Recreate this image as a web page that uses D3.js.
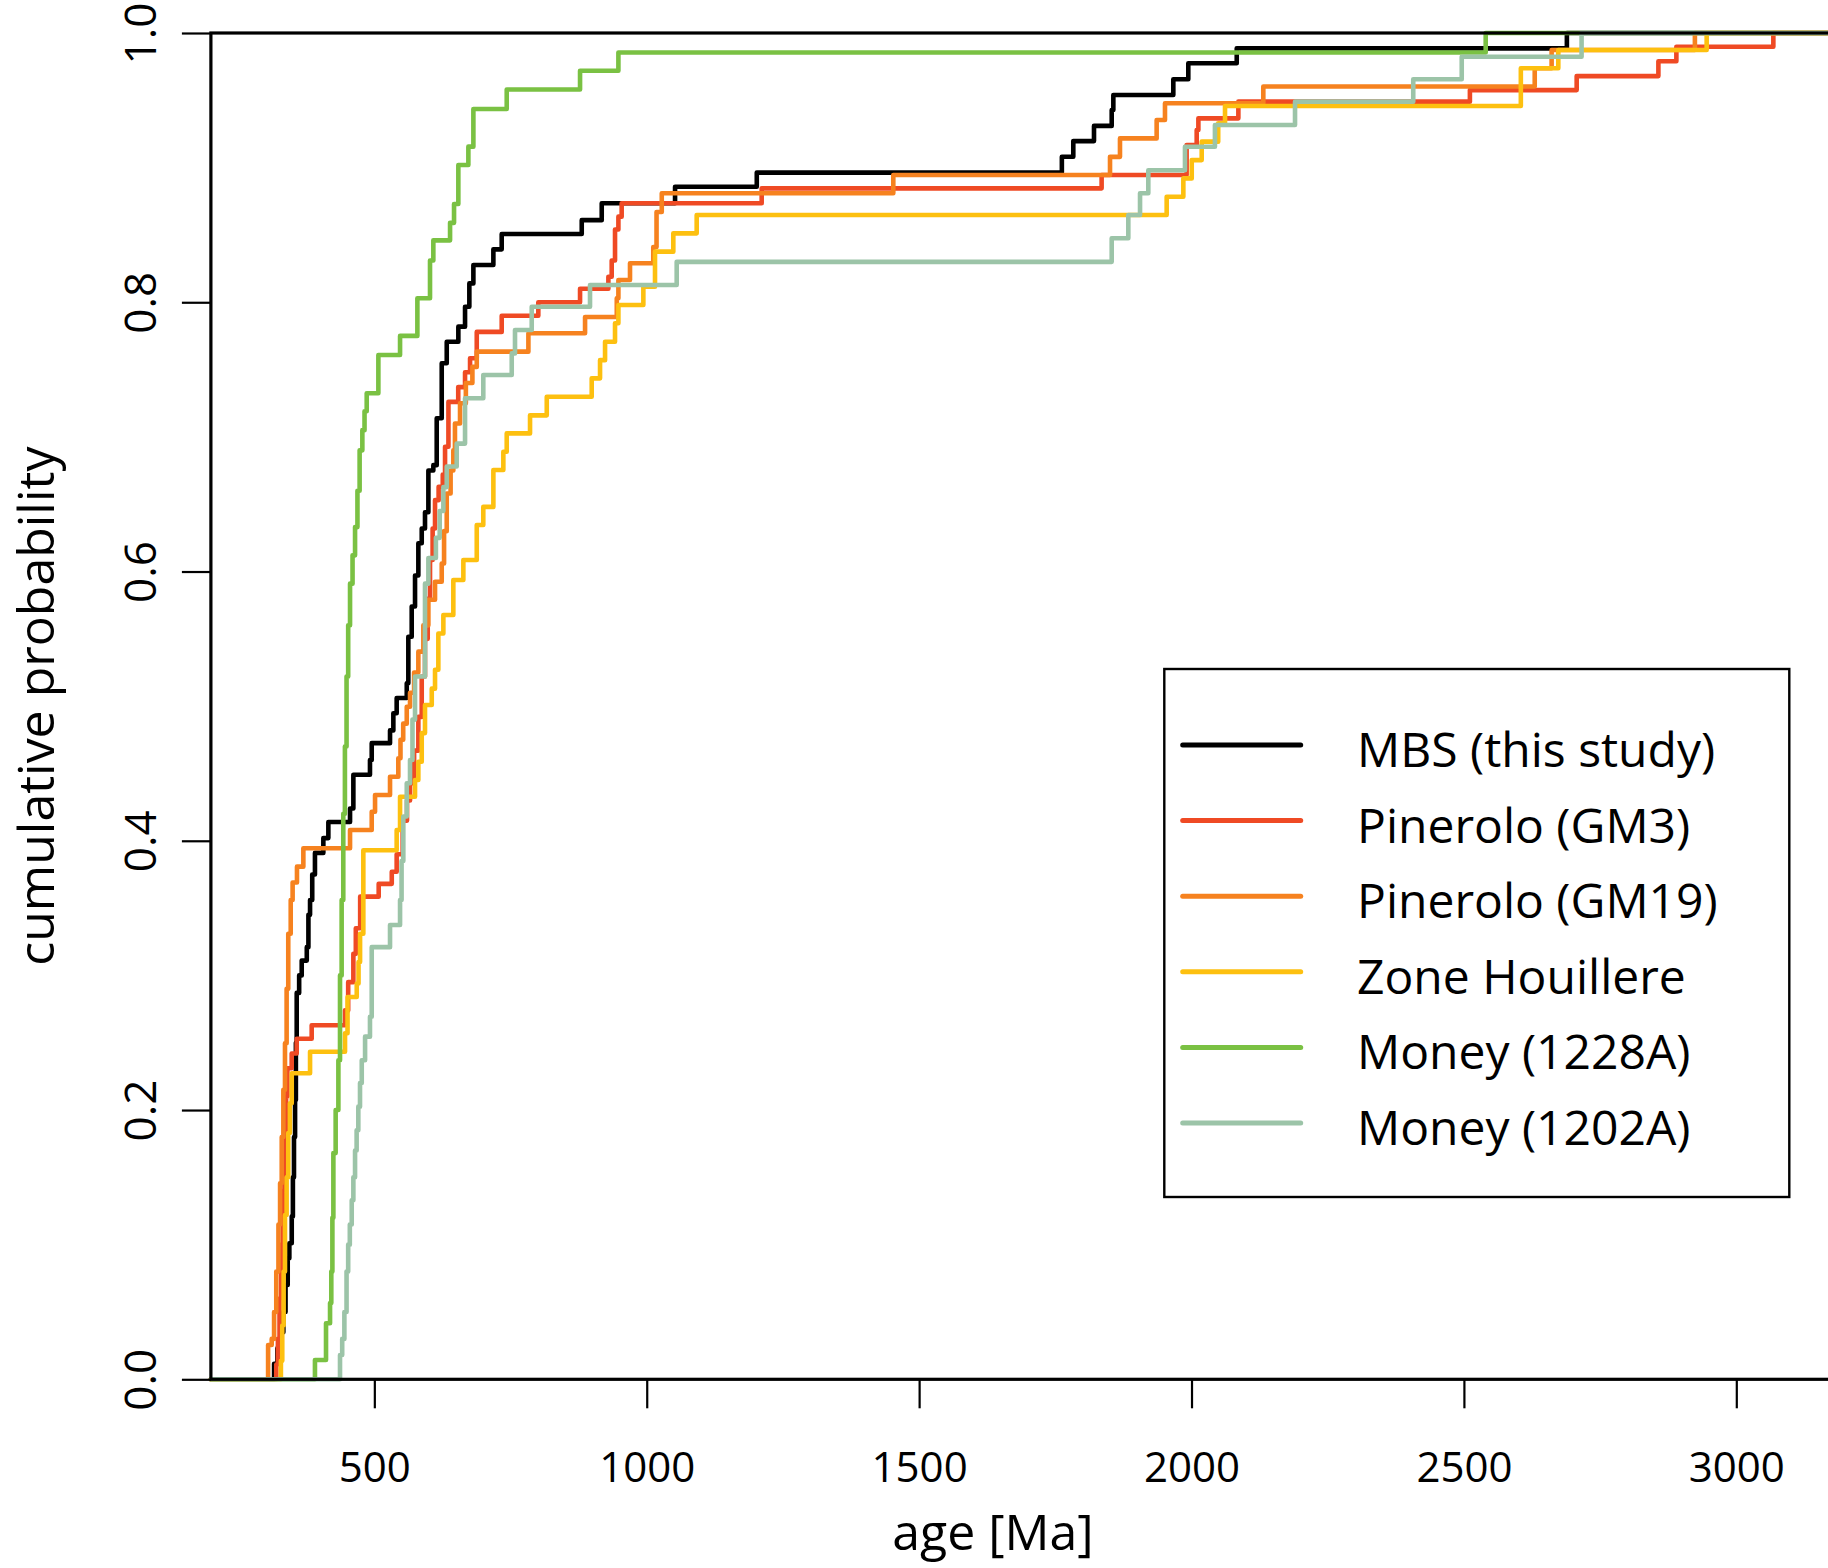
<!DOCTYPE html>
<html>
<head>
<meta charset="utf-8">
<script src="https://cdn.jsdelivr.net/npm/d3@7"></script>
<style>
  body { margin: 0; background: #fff; }
  svg { display: block; font-family: 'Open Sans', sans-serif; }
</style>
</head>
<body>
<div id="chart"></div>
<script>
// cumulative age curves: [age (Ma), cumulative probability]
const mbs = [[316,0.0115],[322,0.023],[328,0.035],[333,0.05],[337,0.07],[341,0.09],[344,0.101],[348.4,0.121],[350.5,0.15],[352.5,0.18],[354.5,0.2075],[356,0.25],[357.5,0.287],[362,0.3],[366.7,0.311],[376,0.321],[379,0.345],[382,0.356],[386,0.375],[391,0.391],[406.4,0.402],[415.6,0.414],[455.4,0.424],[461.5,0.449],[492,0.46],[495.2,0.4725],[528.8,0.482],[534.9,0.4947],[541,0.506],[559.5,0.517],[562.4,0.5516],[568.6,0.574],[574.7,0.597],[580.8,0.621],[587,0.632],[593,0.644],[599.2,0.675],[608.3,0.679],[614.5,0.7138],[623.7,0.7547],[632.9,0.7707],[654.2,0.7819],[666.5,0.7967],[674.4,0.814],[681.8,0.8277],[718.5,0.8393],[733.8,0.8507],[880.7,0.861],[917.4,0.8735],[1052,0.8858],[1202,0.8963],[1762,0.9081],[1783,0.9197],[1821,0.931],[1853.5,0.9428],[1856.5,0.954],[1966.6,0.9656],[1994.1,0.9775],[2083,0.9886],[2689,1]];

const gm3 = [[320,0.011],[323,0.03],[326,0.06],[329,0.1],[332,0.14],[335,0.18],[338,0.21],[340.4,0.231],[348.3,0.242],[357.5,0.253],[385,0.263],[446.2,0.274],[452,0.295],[461.5,0.316],[466,0.335],[474,0.3585],[508,0.368],[532,0.377],[541,0.39],[552,0.415],[560,0.43],[565.5,0.4427],[573,0.467],[580.8,0.492],[587,0.522],[593,0.55],[598,0.58],[602.2,0.6086],[607,0.632],[611.4,0.653],[618,0.663],[625.6,0.672],[629.8,0.6927],[636,0.726],[654,0.737],[666.5,0.748],[675.7,0.7584],[688,0.778],[733.8,0.79],[801,0.8],[877.6,0.81],[929.6,0.819],[935.7,0.831],[941.8,0.854],[948,0.8636],[954,0.8735],[1211,0.8846],[1835,0.8945],[1991,0.9168],[2009.5,0.928],[2012.6,0.9366],[2086,0.949],[2511,0.9576],[2707,0.968],[2857,0.979],[2890,0.9898],[3068,1]];

const gm19 = [[305,0.0255],[311.6,0.03],[316,0.05],[320,0.08],[324,0.115],[327,0.1456],[330,0.18],[333,0.215],[336,0.2496],[339,0.29],[342,0.331],[346.5,0.356],[350,0.369],[358,0.3808],[369.7,0.3944],[455.4,0.408],[495.2,0.4216],[501.3,0.434],[528.8,0.4476],[544,0.4613],[548,0.475],[553,0.487],[559.5,0.4996],[565.5,0.51],[573,0.525],[580.8,0.5405],[590,0.56],[599.2,0.579],[611.4,0.5924],[623.7,0.606],[628,0.63],[632.9,0.658],[640,0.675],[645,0.69],[648,0.71],[657.3,0.725],[668,0.74],[680,0.752],[688,0.7633],[782.8,0.777],[886.8,0.789],[945,0.803],[948,0.8165],[969.3,0.829],[1012,0.841],[1018,0.867],[1027.6,0.881],[1452.6,0.8945],[1850.4,0.908],[1868.7,0.9217],[1936,0.9354],[1951.3,0.9478],[2131.8,0.9603],[2630,0.9738],[2661,0.9874],[2924,1]];

const zoneHouillere = [[328.5,0.0137],[331,0.04],[333.5,0.08],[336,0.122],[339,0.15],[342,0.183],[345,0.205],[348.4,0.2273],[382,0.2433],[446.2,0.257],[450.8,0.284],[467.7,0.294],[471,0.31],[473.8,0.331],[479.8,0.393],[541,0.408],[547.2,0.4327],[574.7,0.4451],[580.8,0.4587],[587,0.48],[593,0.5008],[605.4,0.513],[611.4,0.527],[617.5,0.554],[626.7,0.5677],[645,0.5937],[663.4,0.6086],[688,0.6346],[700,0.648],[718.5,0.6754],[736.8,0.689],[743,0.7026],[785.8,0.716],[816.5,0.7298],[899,0.7435],[914.3,0.757],[923.5,0.7707],[941.8,0.7844],[948,0.798],[993.8,0.8116],[1015.2,0.8376],[1048.8,0.8512],[1091.7,0.8648],[1954.4,0.8784],[1985,0.892],[2000.4,0.9056],[2018.7,0.9193],[2049,0.933],[2061.5,0.9458],[2604.5,0.9738],[2673.3,0.9874],[2945.6,1]];

const money1228A = [[391,0.0143],[411.3,0.0416],[418.7,0.0567],[421,0.08],[423,0.12],[424.8,0.168],[429,0.2],[434,0.237],[437,0.3],[440,0.356],[443,0.42],[446,0.47],[449,0.522],[452,0.56],[455.4,0.591],[460,0.612],[464.6,0.633],[469,0.66],[473,0.69],[478,0.705],[482,0.719],[486,0.7324],[507.4,0.7608],[547.2,0.775],[579,0.803],[602.2,0.831],[608.3,0.846],[639,0.859],[646.3,0.873],[654.2,0.902],[672.6,0.9156],[681.8,0.9435],[743,0.958],[877.6,0.972],[948,0.9855],[2540,1]];

const money1202A = [[437,0.018],[441,0.03],[445,0.05],[449,0.08],[452,0.1],[455,0.115],[458.5,0.133],[461.5,0.15],[464.6,0.17],[467.5,0.185],[470.6,0.2025],[473.7,0.22],[476.9,0.237],[483,0.2545],[492,0.2693],[495.2,0.321],[528.8,0.3374],[547.2,0.356],[550,0.385],[553.2,0.418],[559.5,0.4427],[565.5,0.46],[570,0.49],[574.7,0.522],[593,0.591],[599.2,0.61],[613,0.625],[620,0.645],[626.7,0.6627],[632.9,0.678],[651.2,0.695],[666.5,0.7287],[700,0.746],[752.2,0.762],[758.2,0.7794],[788.9,0.7967],[895.9,0.8128],[1055,0.83],[1853.5,0.8475],[1884,0.8648],[1905.5,0.881],[1920.7,0.898],[1988,0.9155],[2043,0.9317],[2190,0.949],[2407,0.9656],[2496,0.9824],[2716,1]];

const seriesNames = ['MBS (this study)', 'Pinerolo (GM3)', 'Pinerolo (GM19)', 'Zone Houillere', 'Money (1228A)', 'Money (1202A)'];
const seriesData = [mbs, gm3, gm19, zoneHouillere, money1228A, money1202A];
const xTicks = [500, 1000, 1500, 2000, 2500, 3000];
const yTicks = [0, 0.2, 0.4, 0.6, 0.8, 1.0];

const colors = ['#000000', '#ef4a24', '#f6821f', '#fdc010', '#7ac143', '#9cc4a8'];

const width = 1828;
const height = 1568;

// plot frame runs off the right side of the picture
const x = d3.scaleLinear().domain([200, 3000]).range([210.9, 1736.3]);
const y = d3.scaleLinear().domain([0, 1]).range([1379.3, 33]);
const xMax = 3200;

const svg = d3.select('#chart')
  .append('svg')
  .attr('width', width)
  .attr('height', height)
  .attr('viewBox', [0, 0, width, height]);

svg.append('rect')
  .attr('width', width)
  .attr('height', height)
  .attr('fill', '#fff');

// step lines, each one runs from the left edge at 0 up to 1 and on to the right
const line = d3.line()
  .x(d => x(d[0]))
  .y(d => y(d[1]))
  .curve(d3.curveStepAfter);

svg.append('g')
  .attr('fill', 'none')
  .attr('stroke-width', 4.6)
  .attr('stroke-linejoin', 'round')
  .attr('stroke-linecap', 'round')
  .selectAll('path')
  .data(seriesData)
  .join('path')
  .attr('stroke', (d, i) => colors[i])
  .attr('d', d => line([[200, 0], ...d, [xMax, 1]]));

// frame
svg.append('rect')
  .attr('x', x(200))
  .attr('y', y(1))
  .attr('width', x(xMax) - x(200))
  .attr('height', y(0) - y(1))
  .attr('fill', 'none')
  .attr('stroke', '#000')
  .attr('stroke-width', 3.2);

// x axis
const gx = svg.append('g')
  .attr('transform', `translate(0,${y(0)})`)
  .call(d3.axisBottom(x).tickValues(xTicks).tickSize(29).tickFormat(d3.format('d')));
gx.select('.domain').remove();
gx.selectAll('.tick line').attr('stroke', '#000').attr('stroke-width', 2.2);
gx.selectAll('.tick text')
  .attr('y', 102.5)
  .attr('dy', 0)
  .attr('fill', '#000')
  .style('font-size', '42px')
  .style('font-family', "'Open Sans', sans-serif");

// y axis, labels turned along the axis
const gy = svg.append('g')
  .attr('transform', `translate(${x(200)},0)`)
  .call(d3.axisLeft(y).tickValues(yTicks).tickSize(29).tickFormat(d3.format('.1f')));
gy.select('.domain').remove();
gy.selectAll('.tick line').attr('stroke', '#000').attr('stroke-width', 2.2);
gy.selectAll('.tick text')
  .attr('transform', 'rotate(-90)')
  .attr('x', 0)
  .attr('y', -(x(200) - 156))
  .attr('dy', 0)
  .attr('text-anchor', 'middle')
  .attr('fill', '#000')
  .style('font-size', '44px')
  .style('font-family', "'Open Sans', sans-serif");

// axis titles
svg.append('text')
  .attr('x', 993)
  .attr('y', 1550)
  .attr('text-anchor', 'middle')
  .style('font-size', '50px')
  .text('age [Ma]');

svg.append('text')
  .attr('transform', `translate(54,${(y(0) + y(1)) / 2}) rotate(-90)`)
  .attr('text-anchor', 'middle')
  .style('font-size', '50px')
  .text('cumulative probability');

// legend
const legend = svg.append('g');
legend.append('rect')
  .attr('x', 1164.3)
  .attr('y', 669)
  .attr('width', 625)
  .attr('height', 528)
  .attr('fill', '#fff')
  .attr('stroke', '#000')
  .attr('stroke-width', 2.4);

const rows = legend.selectAll('g.row')
  .data(seriesNames)
  .join('g')
  .attr('class', 'row')
  .attr('transform', (d, i) => `translate(0,${745 + i * 75.6})`);

rows.append('line')
  .attr('x1', 1182.7)
  .attr('x2', 1300.7)
  .attr('stroke', (d, i) => colors[i])
  .attr('stroke-width', 5)
  .attr('stroke-linecap', 'round');

rows.append('text')
  .attr('x', 1357)
  .attr('y', 22)
  .style('font-size', '48px')
  .text(d => d);
</script>
</body>
</html>
